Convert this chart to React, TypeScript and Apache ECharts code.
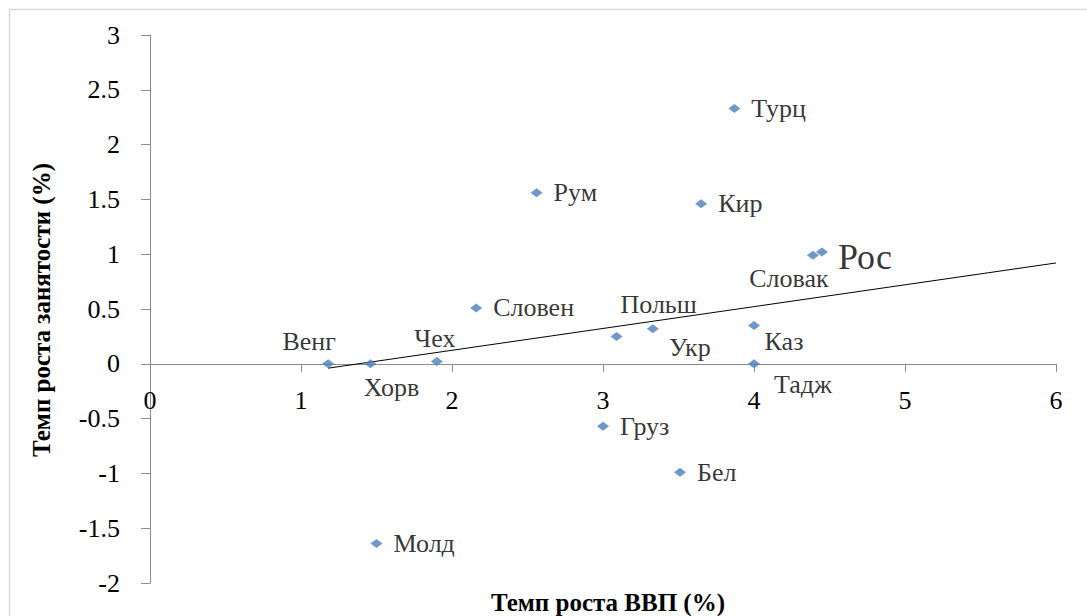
import React, { useEffect, useRef } from "react";
import * as echarts from "echarts";

const countries = ["Венг", "Хорв", "Молд", "Чех", "Словен", "Рум", "Груз", "Польш", "Укр", "Бел", "Кир", "Турц", "Каз", "Тадж", "Словак", "Рос"];
const gdpGrowth = [1.18, 1.46, 1.5, 1.9, 2.16, 2.56, 3.0, 3.09, 3.33, 3.51, 3.65, 3.87, 4.0, 4.0, 4.39, 4.45];
const employmentGrowth = [0.0, 0.0, -1.64, 0.02, 0.51, 1.56, -0.57, 0.25, 0.32, -0.99, 1.46, 2.33, 0.35, 0.0, 0.99, 1.02];
const trendX = [1.18, 6];
const trendY = [-0.04, 0.92];
const xTitle = "Темп роста ВВП (%)";
const yTitle = "Темп роста занятости (%)";

const FONT = "Liberation Serif";

// label placement (styling only): centre offsets in px
const labelPlacement: Record<string, any> = {
  "Словак": { position: "inside", offset: [-24, 23] },
  "Польш": { position: "inside", offset: [42, -32] },
  "Укр": { position: "inside", offset: [37, 19] },
  "Венг": { position: "inside", offset: [-19, -22] },
  "Хорв": { position: "inside", offset: [21, 24] },
  "Чех": { position: "inside", offset: [-2, -23] },
  "Каз": { position: "inside", offset: [30, 16] },
  "Тадж": { position: "inside", offset: [49, 21] },
  "Рос": { position: "right", distance: 10, fontSize: 36, offset: [0, 5] },
};

export default function App() {
  const ref = useRef<HTMLDivElement>(null);
  useEffect(() => {
    if (!ref.current) return;
    const chart = echarts.init(ref.current, undefined, { renderer: "svg" });
    const points = countries.map((name, i) => {
      const p = labelPlacement[name];
      const item: any = { name, value: [gdpGrowth[i], employmentGrowth[i]] };
      if (p) {
        item.label = { ...p, align: p.position === "inside" ? "center" : undefined, verticalAlign: "middle" };
      }
      return item;
    });
    chart.setOption({
      animation: false,
      backgroundColor: "#ffffff",
      textStyle: { fontFamily: FONT },
      grid: { left: 150, right: 31, top: 35, bottom: 33, outerBoundsMode: "none" },
      graphic: [
        {
          type: "rect",
          shape: { x: 9.5, y: 9.5, width: 1200, height: 800 },
          style: { fill: "none", stroke: "#d9d9d9", lineWidth: 1.5 },
          silent: true,
          z: -1,
        },
        {
          type: "text",
          x: 608,
          y: 602,
          style: {
            text: xTitle,
            fontFamily: FONT,
            fontSize: 25,
            fontWeight: "bold",
            fill: "#000",
            align: "center",
            verticalAlign: "middle",
          },
        },
        {
          type: "text",
          x: 41,
          y: 310,
          rotation: Math.PI / 2,
          style: {
            text: yTitle,
            fontFamily: FONT,
            fontSize: 25,
            fontWeight: "bold",
            fill: "#000",
            align: "center",
            verticalAlign: "middle",
          },
        },
      ],
      xAxis: {
        type: "value",
        min: 0,
        max: 6,
        interval: 1,
        axisLine: { onZero: true, lineStyle: { color: "#8c8c8c", width: 1 } },
        axisTick: { show: true, length: 8, lineStyle: { color: "#8c8c8c" } },
        axisLabel: { fontFamily: FONT, fontSize: 26, color: "#000", margin: -196 },
        splitLine: { show: false },
      },
      yAxis: {
        type: "value",
        min: -2,
        max: 3,
        interval: 0.5,
        axisLine: { show: true, onZero: false, lineStyle: { color: "#8c8c8c", width: 1 } },
        axisTick: { show: true, length: 9, lineStyle: { color: "#8c8c8c" } },
        axisLabel: { fontFamily: FONT, fontSize: 26, color: "#000", margin: 30 },
        splitLine: { show: false },
      },
      series: [
        {
          type: "line",
          data: trendX.map((x, i) => [x, trendY[i]]),
          symbol: "none",
          lineStyle: { color: "#000", width: 1 },
          silent: true,
          z: 1,
        },
        {
          type: "scatter",
          data: points,
          symbol: "diamond",
          symbolSize: [12, 9],
          itemStyle: { color: "#4a7ebb" },
          z: 2,
          label: {
            show: true,
            formatter: "{b}",
            position: "right",
            distance: 11,
            fontFamily: FONT,
            fontSize: 26,
            color: "#000",
          },
        },
      ],
    });
    return () => chart.dispose();
  }, []);
  return (
    <div id="chart-wrap" style={{ position: "absolute", left: 0, top: 0, width: 1087, height: 616, overflow: "hidden" }}>
      <style>{`#chart-wrap text { font-family: "Liberation Serif", "Times New Roman", serif !important; }`}</style>
      <div ref={ref} style={{ width: 1087, height: 616 }} />
    </div>
  );
}
